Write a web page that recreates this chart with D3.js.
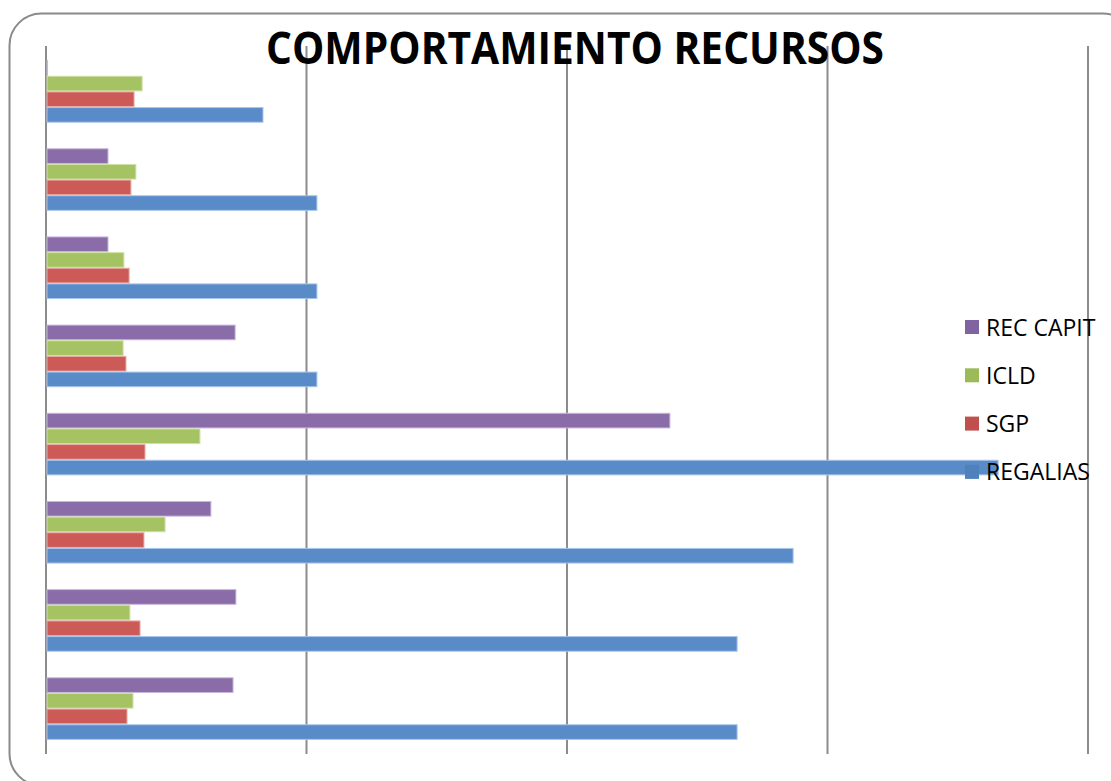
<!DOCTYPE html>
<html>
<head>
<meta charset="utf-8">
<script src="https://cdn.jsdelivr.net/npm/d3@7"></script>
<style>
  body { margin: 0; background: #fff; }
  svg { display: block; }
</style>
</head>
<body>
<svg id="chart"></svg>
<script>
const W = 1111, H = 781;
const MARGIN = { top: 46, right: 23, bottom: 27, left: 46 };

// categories top to bottom (no labels shown in the original)
const groups = ['1', '2', '3', '4', '5', '6', '7', '8'];
const series = ['REC CAPIT', 'ICLD', 'SGP', 'REGALIAS'];
const recCapit = [0.6, 23.8, 23.8, 72.6, 239.5, 63.3, 72.9, 71.8];
const icld = [36.9, 34.5, 29.9, 29.6, 59.1, 45.7, 32.2, 33.4];
const sgp = [33.8, 32.6, 31.9, 30.7, 38.0, 37.6, 36.1, 31.1];
const regalias = [83.3, 104.0, 104.0, 104.0, 365.5, 286.8, 265.3, 265.3];
const xTicks = [0, 100, 200, 300, 400];

const FILL = { 'REC CAPIT': '#8a6ca8', 'ICLD': '#a6c364', 'SGP': '#cc5a56', 'REGALIAS': '#598bc9' };
const EDGE = { 'REC CAPIT': '#c7b6dc', 'ICLD': '#cfe1a8', 'SGP': '#e9aaa7', 'REGALIAS': '#a9c6ea' };
const KEY = { 'REC CAPIT': '#8064a2', 'ICLD': '#9bbb59', 'SGP': '#c0504d', 'REGALIAS': '#4f81bd' };

const valuesBySeries = { 'REC CAPIT': recCapit, 'ICLD': icld, 'SGP': sgp, 'REGALIAS': regalias };
const rows = groups.map((g, i) => ({
  group: g,
  bars: series.map(s => ({ name: s, value: valuesBySeries[s][i] })),
}));

const svg = d3.select('#chart').attr('width', W).attr('height', H);

// rounded frame
svg.append('rect')
  .attr('x', 9.5).attr('y', 13.5)
  .attr('width', 1125).attr('height', 772)
  .attr('rx', 32).attr('ry', 32)
  .attr('fill', 'none')
  .attr('stroke', '#8a8a8a')
  .attr('stroke-width', 2);

const plotW = 1088 - MARGIN.left;
const plotH = 754 - MARGIN.top;

const x = d3.scaleLinear().domain([0, 400]).range([0, plotW]);
const y = d3.scaleBand().domain(groups).range([0, plotH]).paddingInner(0.29).paddingOuter(0.16);
const ySub = d3.scaleBand().domain(series).range([0, y.bandwidth()]);

const chart = svg.append('g')
  .attr('transform', `translate(${MARGIN.left},${MARGIN.top})`);

// vertical gridlines
chart.selectAll('.grid')
  .data(xTicks)
  .enter()
  .append('line')
  .attr('x1', d => x(d)).attr('x2', d => x(d))
  .attr('y1', 0).attr('y2', plotH)
  .attr('stroke', '#8c8c8c')
  .attr('stroke-width', 2);

const row = chart.selectAll('.row')
  .data(rows)
  .enter()
  .append('g')
  .attr('transform', d => `translate(0,${y(d.group)})`);

row.selectAll('rect')
  .data(d => d.bars)
  .enter()
  .append('rect')
  .attr('x', 1)
  .attr('y', d => ySub(d.name) + 0.5)
  .attr('width', d => Math.max(0, x(d.value) - 1))
  .attr('height', ySub.bandwidth() - 1)
  .attr('fill', d => FILL[d.name])
  .attr('stroke', d => EDGE[d.name])
  .attr('stroke-width', 1);

// title
svg.append('text')
  .attr('x', 575).attr('y', 64)
  .attr('text-anchor', 'middle')
  .attr('font-family', 'Open Sans, sans-serif')
  .attr('font-weight', 'bold')
  .attr('font-size', 45)
  .attr('textLength', 618)
  .attr('lengthAdjust', 'spacingAndGlyphs')
  .attr('fill', '#000')
  .text('COMPORTAMIENTO RECURSOS');

// legend
const legend = svg.append('g').attr('transform', 'translate(965,327)');
const item = legend.selectAll('.item')
  .data(series)
  .enter()
  .append('g')
  .attr('transform', (d, i) => `translate(0,${i * 48.3})`);

item.append('rect')
  .attr('x', 0).attr('y', -7)
  .attr('width', 14).attr('height', 14)
  .attr('fill', d => KEY[d]);

item.append('text')
  .attr('x', 21).attr('y', 8.5)
  .attr('font-family', 'Open Sans, sans-serif')
  .attr('font-size', 23)
  .attr('fill', '#000')
  .text(d => d);
</script>
</body>
</html>
